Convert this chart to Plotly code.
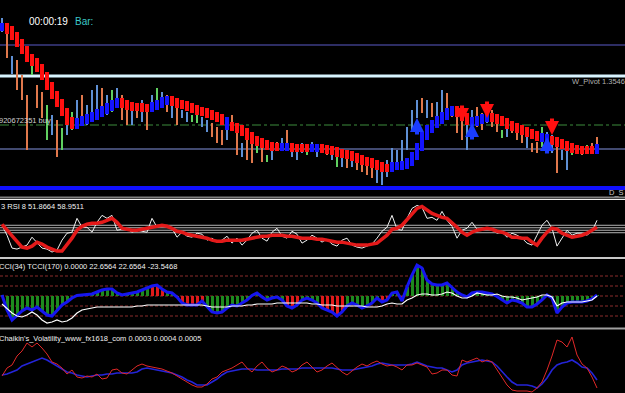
import plotly.graph_objects as go

# ---------------- data (bar index 0..119) ----------------
N = 120
bars = list(range(N))

# main chart prices, in points above 1.35340 (1 point = 0.00001)
price_high = [178,166,140,136,121,101,134,111,104,91,
              81,76,68,78,84,96,101,91,106,111,
              108,101,106,108,101,96,88,91,96,88,
              101,108,104,101,96,96,86,84,81,81,
              79,76,73,69,66,69,81,69,53,56,
              53,51,49,41,53,54,58,66,51,49,
              53,46,54,48,51,48,46,39,41,39,
              38,38,36,34,33,29,28,36,48,46,
              56,69,86,96,98,96,93,94,106,103,
              89,81,78,76,86,89,83,86,86,79,
              66,69,73,66,64,59,53,54,69,64,
              61,56,46,46,49,51,49,51,53,59]
price_low = [164,138,122,106,96,46,121,88,78,56,
             61,39,46,61,66,68,76,71,81,86,
             88,81,84,91,76,71,71,78,74,66,
             86,96,88,84,78,71,78,74,74,73,
             69,64,59,53,51,56,68,41,39,36,
             33,43,34,34,36,46,49,48,39,36,
             43,41,44,39,44,41,36,29,29,28,
             29,26,24,21,18,13,11,19,31,29,
             26,46,66,78,83,78,79,74,84,88,
             79,63,56,46,69,69,66,73,69,64,
             58,59,63,56,53,48,44,43,49,53,
             43,23,36,26,41,43,41,43,44,49]
# bar colour class: O = orange, B = blue, G = green
bar_class = ("BOBOOOGOOG" "BOGBGBOBBB" "OBGBOOBOBO" "BGBOBOBBGG"
             "BBOOOBOOBO" "OGOGBOBOBB" "BGBBOOBGBO" "BOOOOBBBBB"
             "BBBBOBOBBO" "OOOBBOOBOO" "GBOOOBOOGB" "BOBBGOOGOO")

# smoothed trend line (points)
trend = [169,166,160,153,146,138,134,128,120,110,
         101,93,84,75,71,74,76,78,80,83,
         86,89,92,94,92,90,89,89,88,88,
         90,92,95,96,94,92,91,89,87,85,
         84,82,80,78,75,70,69,67,64,60,
         56,54,52,50,49,49,49,49,48,48,
         48,48,48,48,47,46,45,43,42,41,
         39,37,35,34,32,30,28,28,30,30,
         31,34,40,49,60,67,72,76,80,84,
         86,83,79,75,74,76,78,79,78,76,
         74,71,69,67,65,63,61,59,58,56,
         55,53,51,49,47,46,46,46,46,48]
trend_runs = [("B",1),("R",14),("B",9),("R",6),("B",4),("R",11),("B",1),("R",10),
              ("B",2),("R",4),("B",2),("R",14),("B",13),("R",3),("B",4),("R",10),
              ("B",2),("R",9),("B",1)]

# signal arrows (bar index, price points at the arrow tip)
sell_bars = [92, 97, 110]
sell_tips = [74, 78, 61]
buy_bars = [83, 94, 109]
buy_tips = [78, 73, 59]

# horizontal levels (points)
level_r = 151
level_wpivot = 120
level_buy = 71
level_s = 47
level_ds = 8

rsi8 = [58,38,12,10,14,18,34,22,12,10,
        4,8,28,42,44,72,54,54,44,64,
        78,72,78,48,50,52,44,48,46,44,
        72,54,58,56,52,34,44,36,34,42,
        40,28,32,24,28,36,22,32,18,28,
        42,48,32,26,44,52,36,32,46,40,
        22,28,38,32,24,30,20,16,28,32,
        18,14,12,16,20,32,46,54,78,50,
        48,72,92,98,94,72,74,68,86,68,
        56,32,48,52,64,50,52,52,50,42,
        44,34,42,38,32,22,18,38,58,68,
        52,16,32,48,38,42,42,38,46,68]
rsi_smooth = [60,48,36,24,14,12,16,24,20,14,
              10,6,6,18,32,48,56,60,62,62,
              64,68,72,64,52,50,48,48,50,52,
              54,56,58,56,52,46,44,40,38,36,
              34,32,28,26,26,28,28,28,28,30,
              32,34,36,36,38,38,38,36,36,34,
              32,32,32,30,30,28,26,24,24,22,
              20,18,18,18,20,22,30,38,50,52,
              58,70,80,92,96,88,82,78,74,72,
              64,54,44,38,44,48,50,52,50,46,
              44,40,34,34,32,32,24,18,32,44,
              52,50,42,38,34,36,38,42,48,54]
rsi_levels = [43, 48, 53, 58]

cci = [10,-140,-240,-190,-150,-120,-140,-110,-150,-190,
       -200,-150,-90,-60,-20,5,10,10,20,40,
       60,70,70,30,10,20,30,40,60,80,
       100,110,70,40,30,-10,-70,-90,-90,-90,
       -50,-110,-160,-170,-160,-120,-90,-100,-70,-40,
       5,30,-10,-40,-20,-10,-40,-100,-120,-90,
       -40,-20,-40,-70,-120,-140,-160,-200,-160,-100,
       -70,-90,-120,-100,-70,-20,-60,-40,30,40,
       -50,90,210,310,280,160,120,110,110,130,
       80,40,10,-10,30,40,40,30,20,-5,
       -40,-70,-40,-50,-70,-110,-110,-80,-40,10,
       -20,-170,-110,-70,-60,-60,-60,-50,-30,10]
cci_red_bars = [30,31,32,35,36,37,38,39,40,57,58,59,64,65,66,67,68,76,77,80]
tcci = [-80,-130,-170,-200,-210,-190,-160,-190,-240,-270,
        -260,-240,-260,-250,-220,-170,-140,-130,-120,-110,
        -110,-110,-110,-110,-110,-110,-110,-100,-100,-90,
        -90,-90,-90,-90,-90,-90,-90,-90,-90,-90,
        -90,-100,-110,-110,-110,-110,-100,-100,-100,-90,
        -90,-80,-80,-80,-80,-70,-70,-70,-70,-70,
        -70,-70,-80,-80,-90,-90,-90,-100,-100,-100,
        -100,-100,-100,-110,-110,-110,-100,-80,-70,-80,
        -80,-40,-20,10,20,20,10,10,20,40,
        30,0,-20,-20,0,30,20,10,10,20,
        0,-10,-10,-20,-40,-30,-20,-10,10,10,
        -10,-100,-70,-60,-60,-60,-60,-50,-40,0]
cci_levels = [-200, -100, 0, 100, 200]

# Chaikin volatility (x 1e-5)
chaikin = [17,25,28,37,42,50,46,50,45,39,
           31,29,25,19,23,16,15,17,16,19,
           14,15,23,24,20,19,23,27,29,27,
           26,25,24,22,20,17,14,11,8,6,
           6,9,14,16,21,23,25,28,31,25,
           21,27,31,25,21,23,27,25,21,23,
           28,31,26,21,23,27,30,25,21,18,
           22,26,29,27,30,32,29,27,28,26,
           23,28,28,30,28,26,19,20,23,23,
           18,17,33,31,33,35,31,33,31,23,
           15,8,3,2,2,2,1,5,11,23,
           37,53,51,46,56,38,29,25,16,5]
chaikin_ma = [18,19,21,23,27,29,31,33,35,33,
              30,27,24,21,20,18,17,16,17,18,
              18,19,19,20,20,20,20,21,24,25,
              24,23,22,21,20,18,16,13,11,8,
              8,8,11,14,18,21,22,23,24,24,
              24,23,23,23,23,23,24,24,24,24,
              25,25,25,25,25,25,25,24,23,23,
              23,24,25,26,27,29,30,29,28,28,
              28,28,29,31,29,27,26,25,25,23,
              21,23,28,30,31,32,33,32,31,27,
              21,16,11,8,8,8,7,5,9,15,
              23,28,30,31,33,30,26,25,20,13]

for arr in (price_high, price_low, trend, rsi8, rsi_smooth, cci, tcci, chaikin, chaikin_ma):
    assert len(arr) == N, len(arr)
assert len(bar_class) == N

# ---------------- figure ----------------
H = 393.0
W = 625.0
def py(px):
    return 1 - px / H
def px_x(px):
    return px / W

FONT = "Liberation Sans"
bar_cmap = {"O": "#e0784c", "B": "#5f90d4", "G": "#60d060"}
trend_cmap = {"R": "#ff1010", "B": "#1414ff"}

trend_dir = "".join(c * n for c, n in trend_runs)

fig = go.Figure()

# price bars (high-low)
fig.add_trace(go.Bar(
    x=bars, y=[h - l for h, l in zip(price_high, price_low)], base=price_low,
    width=0.3, marker=dict(color=[bar_cmap[c] for c in bar_class], line=dict(width=0)),
    yaxis="y", hoverinfo="skip"))

# smoothed trend blocks
t_lo, t_hi = [], []
for i, v in enumerate(trend):
    prev = trend[i - 1] if i > 0 else v
    t_lo.append(min(prev, v) - 4)
    t_hi.append(max(prev, v) + 4)
fig.add_trace(go.Bar(
    x=bars, y=[h - l for h, l in zip(t_hi, t_lo)], base=t_lo, width=0.95,
    marker=dict(color=[trend_cmap[c] for c in trend_dir], line=dict(width=0)),
    yaxis="y", hoverinfo="skip"))

# RSI
fig.add_trace(go.Scatter(x=bars, y=rsi8, mode="lines", line=dict(color="#f0f0f0", width=1),
                         yaxis="y2", hoverinfo="skip"))
fig.add_trace(go.Scatter(x=bars, y=rsi_smooth, mode="lines", line=dict(color="#e41a1a", width=3.5),
                         yaxis="y2", hoverinfo="skip"))

# CCI histogram + lines
cci_cols = ["#e01a1a" if i in cci_red_bars else "#1e8a1e" for i in bars]
fig.add_trace(go.Bar(x=bars, y=cci, base=0, width=0.6,
                     marker=dict(color=cci_cols, line=dict(width=0)),
                     yaxis="y3", hoverinfo="skip"))
fig.add_trace(go.Scatter(x=bars, y=cci, mode="lines", line=dict(color="#1616f0", width=3),
                         yaxis="y3", hoverinfo="skip"))
fig.add_trace(go.Scatter(x=bars, y=tcci, mode="lines", line=dict(color="#ffffff", width=1.2),
                         yaxis="y3", hoverinfo="skip"))

# Chaikin volatility
fig.add_trace(go.Scatter(x=bars, y=chaikin_ma, mode="lines", line=dict(color="#2424d8", width=1.6),
                         yaxis="y4", hoverinfo="skip"))
fig.add_trace(go.Scatter(x=bars, y=chaikin, mode="lines", line=dict(color="#e02828", width=1),
                         yaxis="y4", hoverinfo="skip"))

shapes = []
def hline(yref, yv, color, width, dash="solid"):
    shapes.append(dict(type="line", xref="paper", x0=0, x1=1, yref=yref, y0=yv, y1=yv,
                       line=dict(color=color, width=width, dash=dash), layer="below"))

hline("y", level_r, "#5a5ac8", 1)
hline("y", level_wpivot, "#d8f4ff", 3)
hline("y", level_buy, "#3c8c3c", 1, "dashdot")
hline("y", level_s, "#8494e0", 1)
hline("y", level_ds, "#1010ff", 4)
for lv in rsi_levels:
    hline("y2", lv, "#b4b4b4", 1)
for lv in cci_levels:
    hline("y3", lv, "#8c2c2c", 1, "3px,2px")

# panel separators
def sep(pxrow, color, width):
    shapes.append(dict(type="line", xref="paper", x0=0, x1=1, yref="paper",
                       y0=py(pxrow), y1=py(pxrow), line=dict(color=color, width=width)))
sep(197.5, "#808080", 2)
sep(199.5, "#f0f0f0", 1)
sep(258, "#c8c8c8", 2)
sep(328.5, "#a0a0a0", 2)

ann = []
def text(px, pyrow, s, color, size, anchor="left"):
    ann.append(dict(xref="paper", yref="paper", x=px_x(px), y=py(pyrow), text=s, showarrow=False,
                    xanchor=anchor, yanchor="middle", font=dict(family=FONT, size=size, color=color)))

text(27, 22, "00:00:19", "#ffffff", 10)
text(73, 22, "Bar:", "#3cc8c8", 10)
text(-3, 120, "920672351 buy", "#d0d0d0", 7.5)
text(570, 81, "W_Pivot 1.3546", "#b0b0b0", 7.5)
text(607, 192.5, "D_S", "#c8c8c8", 7.5)
text(-1, 206, "3 RSI 8 51.8664 58.9511", "#f0f0f0", 7.5)
text(-3, 266, "CCI(34) TCCI(170) 0.0000 22.6564 22.6564 -23.5468", "#f0f0f0", 7.5)
text(-3, 338, "Chaikin's_Volatility_www_fx1618_com 0.0003 0.0004 0.0005", "#f0f0f0", 7.5)

for b, t in zip(sell_bars, sell_tips):
    ann.append(dict(x=b, y=t, xref="x", yref="y", text="", showarrow=True, ax=0, ay=-18,
                    arrowhead=2, arrowsize=0.7, arrowwidth=4, arrowcolor="#ff1010"))
for b, t in zip(buy_bars, buy_tips):
    ann.append(dict(x=b, y=t, xref="x", yref="y", text="", showarrow=True, ax=0, ay=18,
                    arrowhead=2, arrowsize=0.7, arrowwidth=4, arrowcolor="#1a3cff"))

fig.update_layout(
    width=625, height=393, margin=dict(l=0, r=0, t=0, b=0),
    paper_bgcolor="#000000", plot_bgcolor="#000000", showlegend=False,
    barmode="overlay", bargap=0,
    xaxis=dict(range=[-0.4, 124.6], visible=False, fixedrange=True),
    yaxis=dict(domain=[py(196), 1], range=[0, 196], visible=False),
    yaxis2=dict(domain=[py(258), py(199.5)], range=[-8, 110], visible=False, anchor="x"),
    yaxis3=dict(domain=[py(327), py(260)], range=[-310, 360], visible=False, anchor="x"),
    yaxis4=dict(domain=[0, py(330)], range=[0, 63], visible=False, anchor="x"),
    shapes=shapes, annotations=ann,
)

fig.write_html("out.html", config={"displayModeBar": False})
